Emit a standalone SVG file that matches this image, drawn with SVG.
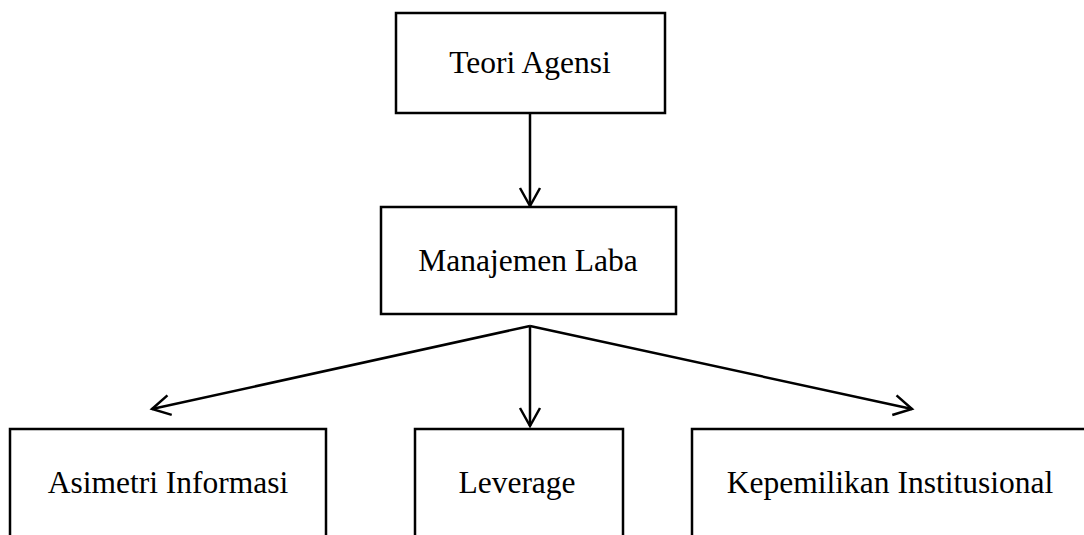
<svg xmlns="http://www.w3.org/2000/svg" width="1084" height="535" viewBox="0 0 1084 535">
<style>
.box{fill:#fff;stroke:#000;stroke-width:2.5}
.lbl{font-family:"Liberation Serif","Times New Roman",serif;font-size:31.5px;fill:#000;text-anchor:middle}
.con{stroke:#000;stroke-width:2.5;fill:none}
</style>
<defs>
<marker id="arr" viewBox="-20 -12 24 24" refX="0" refY="0" markerWidth="24" markerHeight="24" markerUnits="userSpaceOnUse" orient="auto" overflow="visible">
<path d="M-18,-10 L0,0 L-18,10" fill="none" stroke="#000" stroke-width="2.5"/>
</marker>
</defs>
<rect width="1084" height="535" fill="#fff"/>
<g id="connectors">
<line class="con" x1="530" y1="113" x2="530" y2="206" marker-end="url(#arr)"/>
<line class="con" x1="530" y1="326" x2="152" y2="409" marker-end="url(#arr)"/>
<line class="con" x1="530" y1="326" x2="530" y2="426" marker-end="url(#arr)"/>
<line class="con" x1="530" y1="326" x2="912" y2="409" marker-end="url(#arr)"/>
</g>
<g id="teori-agensi">
<rect class="box" x="396" y="13" width="269" height="100"/>
<text class="lbl" x="530" y="73">Teori Agensi</text>
</g>
<g id="manajemen-laba">
<rect class="box" x="381" y="207" width="295" height="107"/>
<text class="lbl" x="528" y="271">Manajemen Laba</text>
</g>
<g id="asimetri-informasi">
<rect class="box" x="10" y="429" width="316" height="120"/>
<text class="lbl" x="168" y="493">Asimetri Informasi</text>
</g>
<g id="leverage">
<rect class="box" x="415" y="429" width="208" height="120"/>
<text class="lbl" x="517" y="493">Leverage</text>
</g>
<g id="kepemilikan-institusional">
<rect class="box" x="692" y="429" width="400" height="120"/>
<text class="lbl" x="890" y="493">Kepemilikan Institusional</text>
</g>
</svg>
